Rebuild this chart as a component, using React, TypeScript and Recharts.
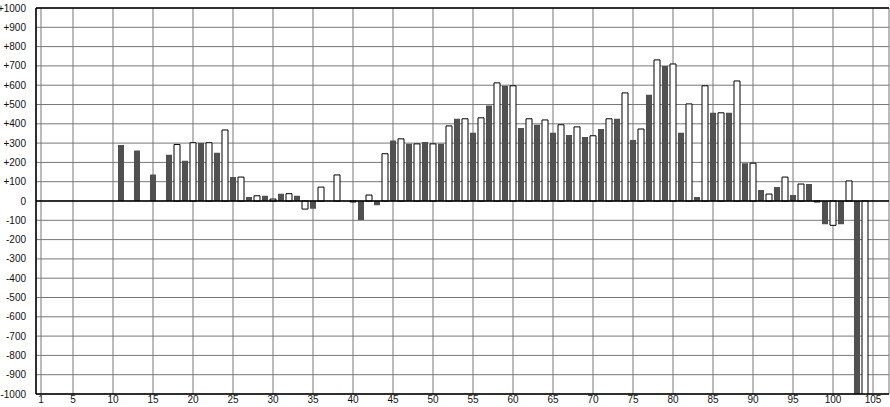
import { BarChart, Bar, XAxis, YAxis, CartesianGrid, ReferenceLine, Cell } from "recharts";

// values for positions 1..105 (null = no bar)
const values: (number | null)[] = [
  null, null, null, null, null, null, null, null, null, null,
  290, null, 262, null, 137, null, 240, 293, 208, 302,
  302, 302, 250, 368, 124, 124, 21, 27, 27, 10,
  38, 38, 27, -42, -40, 72, null, 135, null, -5,
  -98, 31, -22, 245, 313, 322, 296, 296, 306, 296,
  296, 389, 426, 426, 353, 431, 495, 612, 597, 597,
  378, 426, 395, 420, 353, 395, 342, 384, 332, 338,
  373, 426, 426, 560, 316, 373, 550, 731, 700, 710,
  353, 503, 21, 597, 457, 457, 457, 622, 196, 196,
  57, 36, 73, 124, 31, 88, 88, -5, -121, -126,
  -121, 104, -1100, -1100, null,
];

const xTicks = [1, 5, 10, 15, 20, 25, 30, 35, 40, 45, 50, 55, 60, 65, 70, 75, 80, 85, 90, 95, 100, 105];
const yTicks = [
  -1000, -900, -800, -700, -600, -500, -400, -300, -200, -100, 0,
  100, 200, 300, 400, 500, 600, 700, 800, 900, 1000,
];

const data = values.map((v, i) => ({ n: i + 1, v }));

const tickStyle = { fontSize: 10, fontFamily: "Liberation Sans, Arial, sans-serif", fill: "#111" };

export default function App() {
  return (
    <div style={{ position: "absolute", left: 0, top: 0, background: "#fff" }}>
      <BarChart width={890} height={407} data={data} margin={{ top: 8, right: 1, bottom: 0, left: 0 }}>
        <CartesianGrid stroke="#777" strokeWidth={1} />
        <XAxis
          dataKey="n"
          type="number"
          domain={[0.375, 107]}
          ticks={xTicks}
          interval={0}
          height={13}
          tickSize={0}
          tickMargin={2}
          tickLine={false}
          axisLine={{ stroke: "#000", strokeWidth: 1.5 }}
          tick={tickStyle}
        />
        <YAxis
          type="number"
          domain={[-1000, 1000]}
          ticks={yTicks}
          interval={0}
          allowDataOverflow
          width={36}
          tickSize={0}
          tickMargin={10}
          tickLine={false}
          axisLine={{ stroke: "#000", strokeWidth: 1.5 }}
          tick={tickStyle}
          tickFormatter={(v: number) => (v > 0 ? `+${v}` : `${v}`)}
        />
        <ReferenceLine y={1000} stroke="#000" strokeWidth={1.5} />
        <Bar dataKey="v" barSize={6} isAnimationActive={false}>
          {data.map((d) => (
            <Cell
              key={d.n}
              fill={d.n % 2 === 1 ? "#505050" : "#fff"}
              stroke={d.n % 2 === 1 ? "none" : "#000"}
              strokeWidth={1}
            />
          ))}
        </Bar>
        <ReferenceLine y={0} stroke="#000" strokeWidth={1.5} />
      </BarChart>
    </div>
  );
}
